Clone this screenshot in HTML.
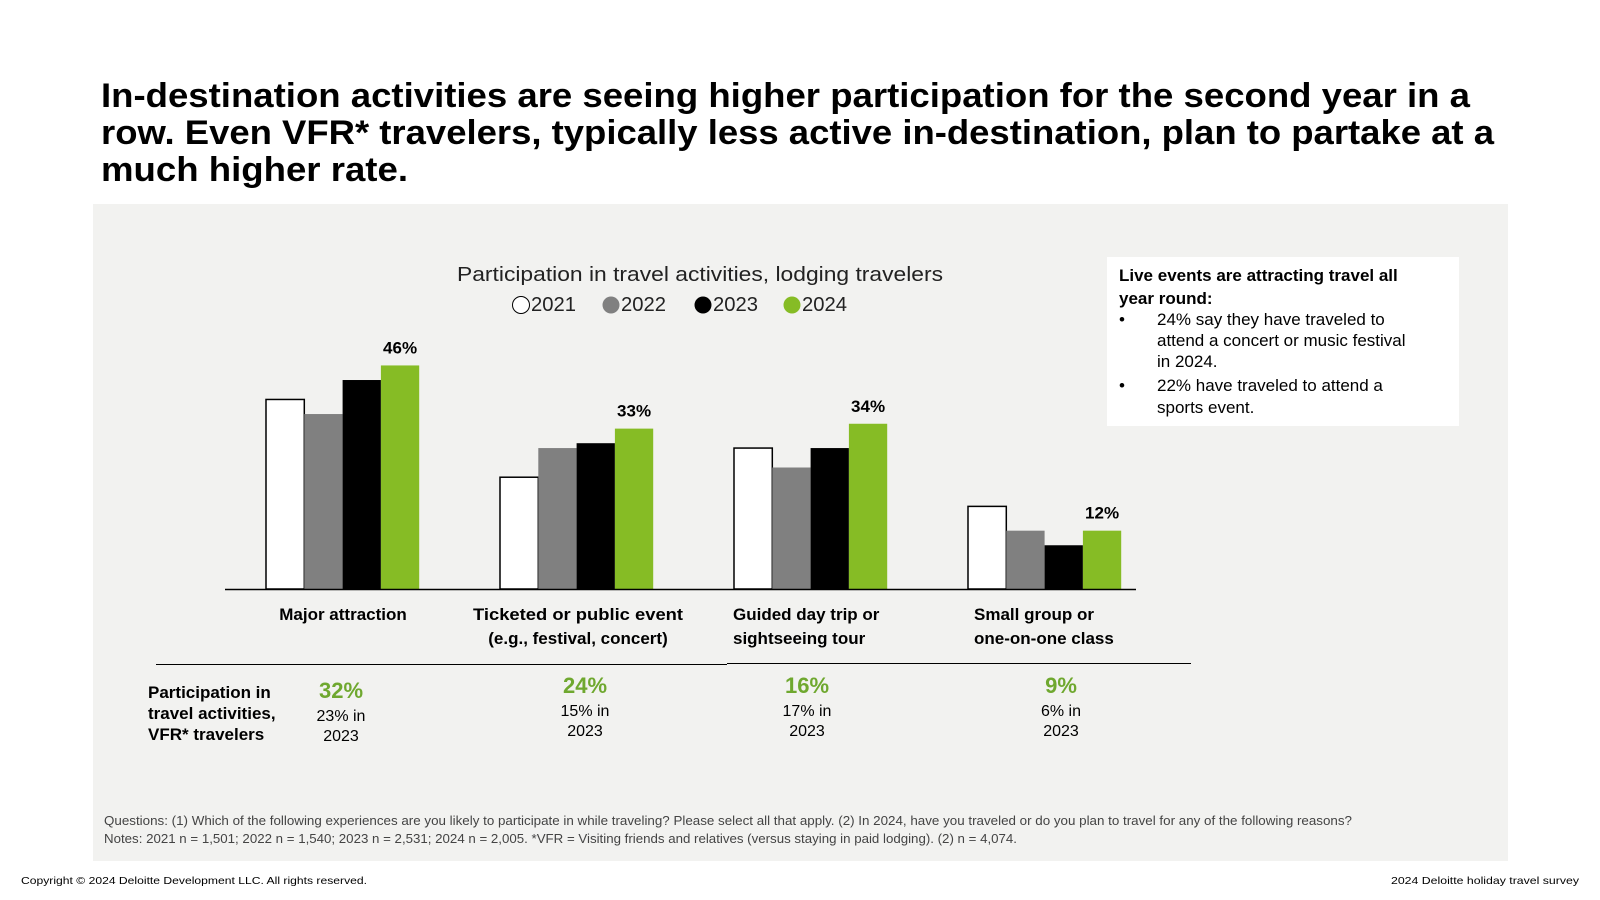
<!DOCTYPE html>
<html><head><meta charset="utf-8"><style>
html,body{margin:0;padding:0;background:#fff;}
svg{display:block;font-family:"Liberation Sans",sans-serif;}
</style></head><body>
<svg id="c" width="1600" height="900" viewBox="0 0 1600 900">
<g font-weight="bold" font-size="34" fill="#000">
<text x="101" y="107" textLength="1369" lengthAdjust="spacingAndGlyphs">In-destination activities are seeing higher participation for the second year in a</text>
<text x="101" y="144" textLength="1393" lengthAdjust="spacingAndGlyphs">row. Even VFR* travelers, typically less active in-destination, plan to partake at a</text>
<text x="101" y="181" textLength="307" lengthAdjust="spacingAndGlyphs">much higher rate.</text>
</g>
<rect x="93" y="204" width="1415" height="657" fill="#f2f2f0"/>
<text x="457" y="281" textLength="486" lengthAdjust="spacingAndGlyphs" font-size="20" fill="#222">Participation in travel activities, lodging travelers</text>
<g id="legend"></g>
<g id="bars"></g>
<line x1="225" y1="589.5" x2="1136" y2="589.5" stroke="#000" stroke-width="1.5"/>
<g font-weight="bold" font-size="17" fill="#000">
<text x="343" y="620" text-anchor="middle">Major attraction</text>
<text x="578" y="620" text-anchor="middle" textLength="210" lengthAdjust="spacingAndGlyphs">Ticketed or public event</text>
<text x="578" y="644" text-anchor="middle">(e.g., festival, concert)</text>
<text x="733" y="620">Guided day trip or</text>
<text x="733" y="644">sightseeing tour</text>
<text x="974" y="620">Small group or</text>
<text x="974" y="644">one-on-one class</text>
</g>
<line x1="156" y1="664.5" x2="727" y2="664.5" stroke="#000" stroke-width="1"/>
<line x1="727" y1="663.5" x2="1191" y2="663.5" stroke="#000" stroke-width="1"/>
<g font-weight="bold" font-size="17" fill="#000">
<text x="148" y="698">Participation in</text>
<text x="148" y="719">travel activities,</text>
<text x="148" y="740">VFR* travelers</text>
</g>
<g id="vfr"></g>
<rect x="1107" y="257" width="352" height="169" fill="#fff"/>
<g font-size="17" fill="#000">
<text x="1119" y="281" font-weight="bold">Live events are attracting travel all</text>
<text x="1119" y="304" font-weight="bold">year round:</text>
<text x="1119" y="325">•</text><text x="1157" y="325">24% say they have traveled to</text>
<text x="1157" y="346">attend a concert or music festival</text>
<text x="1157" y="367">in 2024.</text>
<text x="1119" y="391">•</text><text x="1157" y="391">22% have traveled to attend a</text>
<text x="1157" y="413">sports event.</text>
</g>
<g font-size="12.5" fill="#444">
<text x="104" y="825" textLength="1248" lengthAdjust="spacingAndGlyphs">Questions: (1) Which of the following experiences are you likely to participate in while traveling? Please select all that apply. (2) In 2024, have you traveled or do you plan to travel for any of the following reasons?</text>
<text x="104" y="843" textLength="913" lengthAdjust="spacingAndGlyphs">Notes: 2021 n = 1,501; 2022 n = 1,540; 2023 n = 2,531; 2024 n = 2,005. *VFR = Visiting friends and relatives (versus staying in paid lodging). (2) n = 4,074.</text>
</g>
<text x="21" y="884" font-size="10.5" fill="#000" textLength="346" lengthAdjust="spacingAndGlyphs">Copyright © 2024 Deloitte Development LLC. All rights reserved.</text>
<text x="1391" y="884" font-size="10.5" fill="#000" textLength="188" lengthAdjust="spacingAndGlyphs">2024 Deloitte holiday travel survey</text>
</svg>
<script>
const categories = ["Major attraction","Ticketed or public event","Guided day trip or sightseeing tour","Small group or one-on-one class"];
const years = ["2021","2022","2023","2024"];
const v2021 = [39, 23, 29, 17];
const v2022 = [36, 29, 25, 12];
const v2023 = [43, 30, 29, 9];
const v2024 = [46, 33, 34, 12];
const vfr2024 = ["32%","24%","16%","9%"];
const vfr2023 = ["23%","15%","17%","6%"];

const NS="http://www.w3.org/2000/svg";
const fills=["#ffffff","#808080","#000000","#86bc25"];
const series=[v2021,v2022,v2023,v2024];
const baseY=589, pxPer=4.86, g0=266, gStep=234, bw=38.3;
const yS=v=>baseY-v*pxPer;
const xS=(ci,si)=>g0+ci*gStep+si*bw;
const bars=document.getElementById('bars');
function mk(t,a){const e=document.createElementNS(NS,t);for(const k in a)e.setAttribute(k,a[k]);return e;}
categories.forEach((c,ci)=>{
  series.forEach((s,si)=>{
    const r=mk('rect',{x:xS(ci,si),y:yS(s[ci]),width:bw,height:s[ci]*pxPer,fill:fills[si],stroke:si===0?'#000':'none','stroke-width':1.5});
    
    
    bars.appendChild(r);
  });
  const t=mk('text',{x:xS(ci,3)+bw/2,y:yS(v2024[ci])-12,'text-anchor':'middle','font-size':17,'font-weight':'bold'});
  t.textContent=v2024[ci]+'%';
  
  
  bars.appendChild(t);
});
const lg=document.getElementById('legend');
const lx=[521,611,703,792];
years.forEach((y,i)=>{
  const c=mk('circle',{cx:lx[i],cy:305,r:8.5,fill:fills[i],stroke:i===0?'#000':'none','stroke-width':1});
  
  
  lg.appendChild(c);
  const t=mk('text',{x:lx[i]+10,y:311,'font-size':20,fill:'#222',textLength:45,lengthAdjust:'spacingAndGlyphs'});
  t.textContent=y;
  
  
  lg.appendChild(t);
});
const vf=document.getElementById('vfr');
const vx=[341,585,807,1061];
vfr2024.forEach((v,i)=>{
  const off=i===0?5:0;
  const a=mk('text',{x:vx[i],y:693+off,'text-anchor':'middle','font-size':22,'font-weight':'bold',fill:'#6fa82f'});
  a.textContent=v;
  
  
  vf.appendChild(a);
  const b=mk('text',{x:vx[i],y:716+off,'text-anchor':'middle','font-size':16,fill:'#000'});
  b.textContent=vfr2023[i]+' in';
  
  
  vf.appendChild(b);
  const d=mk('text',{x:vx[i],y:736+off,'text-anchor':'middle','font-size':16,fill:'#000'});
  d.textContent='2023';
  
  
  vf.appendChild(d);
});
</script>
</body></html>
